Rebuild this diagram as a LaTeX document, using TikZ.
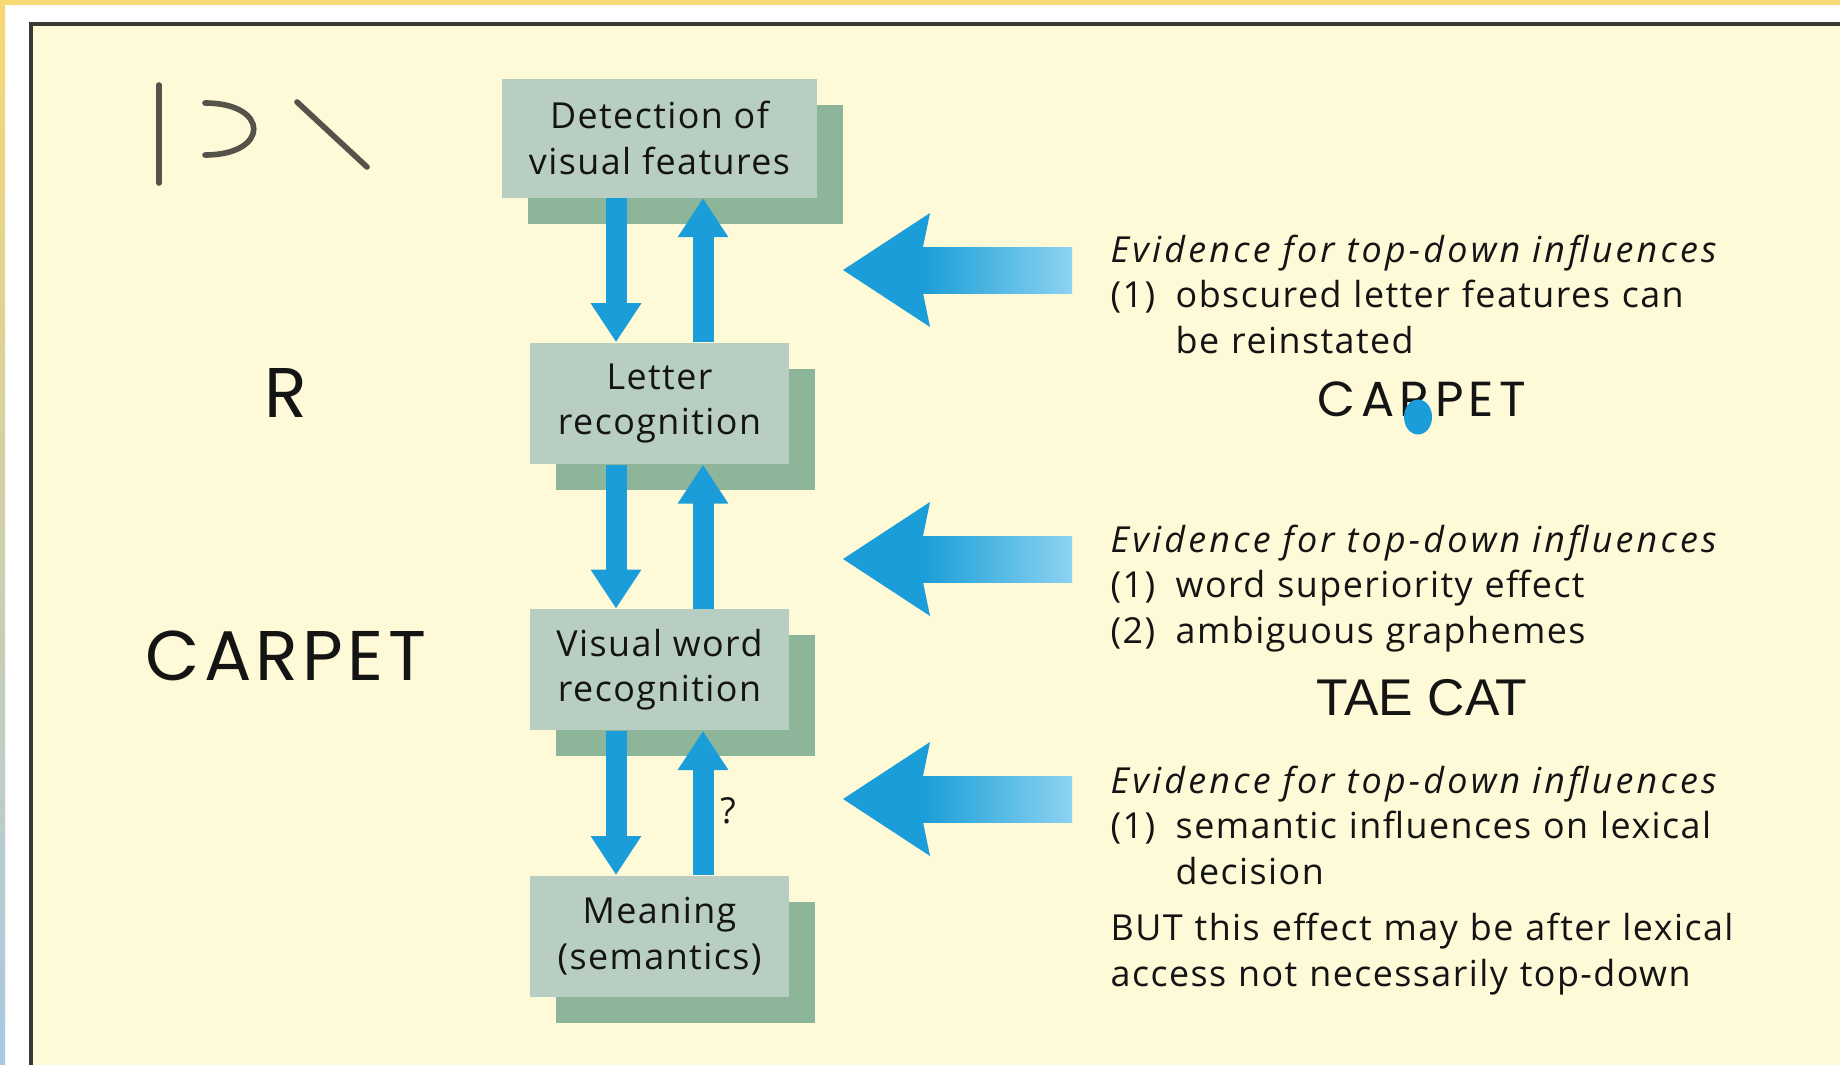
\documentclass[tikz,border=0pt]{standalone}
\usepackage{fontspec}
\setmainfont{Open Sans}[LetterSpace=4, ItalicFeatures={LetterSpace=9}]
\newfontfamily\capsfont{Poppins}[LetterSpace=6]
\newfontfamily\helvfont{Liberation Sans}
\usetikzlibrary{positioning,arrows.meta,shadows}

\definecolor{bandyellow}{HTML}{F8D873}
\definecolor{bandblue}{HTML}{A8C8E4}
\definecolor{cream}{HTML}{FEF9D6}
\definecolor{framegray}{HTML}{3A3A32}
\definecolor{boxfront}{HTML}{B8CEC2}
\definecolor{boxshadow}{HTML}{8CB59A}
\definecolor{flowblue}{HTML}{1A9DD8}
\definecolor{lightblue}{HTML}{8CD3F1}
\definecolor{inkgray}{HTML}{55524A}

\newcommand{\itm}[1]{\makebox[0.65cm][l]{#1}}

\begin{document}
\begin{tikzpicture}[font=\fontsize{10.2}{12.95}\selectfont, text=black!92,
	box/.style={fill=boxfront, minimum width=2.59cm, minimum height=1.21cm, inner sep=0pt, align=center,
		drop shadow={opacity=1, fill=boxshadow, shadow xshift=0.26cm, shadow yshift=-0.26cm}},
	flow/.style={draw=flowblue, line width=0.21cm, -{Triangle[width=0.48cm,length=0.39cm]}},
	evid/.style={anchor=base west, text width=7cm, align=left, inner sep=0pt},
	stroke/.style={draw=inkgray, line width=1.6pt, line cap=round}]
	\useasboundingbox (0,0) rectangle (18.4,10.64);
	\clip (0,0) rectangle (18.4,10.64);
	% page edge and panel
	\fill[white] (0,0) rectangle (18.4,10.64);
	\shade[top color=bandyellow, bottom color=bandblue] (0,0) rectangle (0.05,10.64);
	\fill[bandyellow] (0,10.59) rectangle (18.4,10.64);
	\fill[cream] (0.31,-0.1) rectangle (18.5,10.40);
	\draw[framegray, line width=0.9pt] (0.31,-0.1) -- (0.31,10.40) -- (18.5,10.40);
	% feature strokes, letter, word
	\draw[stroke] (1.59,9.79) -- (1.59,8.81);
	\draw[stroke] (2.05,9.61) .. controls (2.70,9.61) and (2.70,9.09) .. (2.05,9.09);
	\draw[stroke] (2.97,9.62) -- (3.67,8.97);
	\node[anchor=base, font=\capsfont\fontsize{20}{24}\selectfont] (rletter) at (2.86,6.47) {R};
	\node[anchor=base, font=\capsfont\fontsize{20}{24}\selectfont] (carpetl) at (2.86,3.84) {CARPET};
	% processing levels
	\node[box, minimum width=3.15cm, minimum height=1.19cm] (detect) at (6.595,9.26) {Detection of\\visual features};
	\node[box, below=1.44cm of detect] (letter) {Letter\\recognition};
	\node[box, below=1.44cm of letter] (word) {Visual word\\recognition};
	\node[box, below=1.44cm of word] (meaning) {Meaning\\(semantics)};
	\coordinate (dn) at (6.16,0);
	\coordinate (up) at (7.03,0);
	\foreach \a/\b in {detect/letter, letter/word, word/meaning} {
		\draw[flow] (\a.south -| dn) -- (\b.north -| dn);
		\draw[flow] (\b.north -| up) -- (\a.south -| up);
	}
	\node (query) at (7.28,2.53) {?};
	% top-down arrows
	\foreach \y in {7.94,5.05,2.65} {
		\shade[left color=flowblue, right color=lightblue] (9.22,\y-0.23) rectangle (10.72,\y+0.23);
		\fill[flowblue] (8.43,\y) -- (9.30,\y+0.57) -- (9.23,\y+0.23) -- (9.23,\y-0.23) -- (9.30,\y-0.57) -- cycle;
	}
	% evidence
	\node[evid] (ev1) at (11.10,8.02) {\textit{Evidence for top-down influences}\\\itm{(1)}obscured letter features can\\\hspace*{0.65cm}be reinstated};
	\node[anchor=base, font=\capsfont\fontsize{14}{17}\selectfont\addfontfeature{LetterSpace=11}] (carpetr) at (14.22,6.48) {CARPET};
	\fill[flowblue] (14.18,6.47) ellipse (0.14 and 0.175);
	\node[evid] (ev2) at (11.10,5.12) {\textit{Evidence for top-down influences}\\\itm{(1)}word superiority effect\\\itm{(2)}ambiguous graphemes};
	\node[anchor=base, font=\helvfont\fontsize{14.7}{18}\selectfont] (taecat) at (14.22,3.49) {TAE CAT};
	\node[evid] (ev3) at (11.10,2.71) {\textit{Evidence for top-down influences}\\\itm{(1)}semantic influences on lexical\\\hspace*{0.65cm}decision\\[0.11cm]BUT this effect may be after lexical\\access not necessarily top-down};
\end{tikzpicture}
\end{document}
